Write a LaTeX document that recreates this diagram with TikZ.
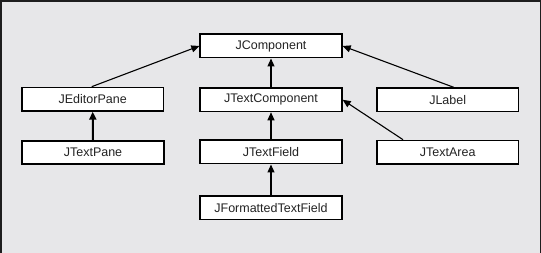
\documentclass[tikz,border=0pt]{standalone}
\usepackage{fontspec}
\setmainfont{Liberation Sans}
\usetikzlibrary{arrows.meta}
\definecolor{bggray}{RGB}{231,231,233}
\definecolor{framegray}{RGB}{30,30,30}
\definecolor{txtgray}{RGB}{35,35,35}
\begin{document}
\begin{tikzpicture}[x=1pt,y=-1pt,
  classbox/.style={draw=black,fill=white,line width=1.6pt,minimum width=141.7pt,minimum height=23.4pt,inner sep=0pt,font=\fontsize{12.5}{14}\selectfont,text=txtgray},
  inherit/.style={line width=1.1pt,-{Triangle[length=8pt,width=7pt]}},
  inheritthick/.style={line width=2pt,-{Triangle[length=8pt,width=7pt]}}]
\useasboundingbox (0,0) rectangle (541,253);
\fill[bggray] (0,0) rectangle (541,253);
\draw[framegray,line width=2pt] (1,253) -- (1,1) -- (540,1);
\draw[framegray,line width=1pt] (540.5,0) -- (540.5,253);
\node[classbox] (jcomp) at (271,46) {JComponent};
\node[classbox] (jeditor) at (92.7,99.2) {JEditorPane};
\node[classbox] (jtextcomp) at (271,99.8) {JTextComponent};
\node[classbox] (jlabel) at (447.7,99.8) {JLabel};
\node[classbox] (jtextpane) at (93,152.5) {JTextPane};
\node[classbox] (jtextfield) at (271,152) {JTextField};
\node[classbox] (jtextarea) at (447.7,152.2) {JTextArea};
\node[classbox] (jformatted) at (271,207.8) {JFormattedTextField};
\draw[inherit] ([xshift=-1pt]jeditor.north) -- (jcomp.west);
\draw[inherit] ([xshift=6pt]jlabel.north) -- (jcomp.east);
\draw[inherit] (jtextcomp.north) -- (jcomp.south);
\draw[inherit] (jtextfield.north) -- (jtextcomp.south);
\draw[inherit] ([xshift=-44.7pt]jtextarea.north) -- (jtextcomp.east);
\draw[inherit] (jformatted.north) -- (jtextfield.south);
\draw[inheritthick] (jtextpane.north) -- (jeditor.south);
\end{tikzpicture}
\end{document}
